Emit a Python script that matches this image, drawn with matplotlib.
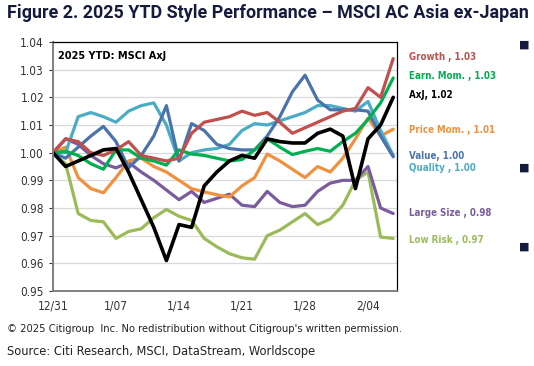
import matplotlib
matplotlib.use("Agg")
import matplotlib.pyplot as plt
from matplotlib.ticker import FixedLocator
from matplotlib import font_manager

# ---- data (weekday index from 12/31) ----
x_labels = ["12/31", "1/07", "1/14", "1/21", "1/28", "2/04"]
x_label_pos = [0, 5, 10, 15, 20, 25]

growth = [1.000, 1.005, 1.004, 1.000, 0.999, 1.001, 1.004, 0.999, 0.998, 0.997,
          0.998, 1.007, 1.011, 1.012, 1.013, 1.015, 1.0135, 1.0145, 1.011, 1.007,
          1.009, 1.011, 1.013, 1.015, 1.016, 1.0235, 1.020, 1.034]
earn_mom = [1.000, 1.0005, 0.999, 0.996, 0.994, 1.001, 1.001, 0.998, 0.997, 0.9955,
            1.001, 0.9995, 0.999, 0.998, 0.997, 0.9975, 1.001, 1.005, 1.002, 0.9993,
            1.0005, 1.0015, 1.0005, 1.004, 1.007, 1.012, 1.018, 1.027]
axj = [1.000, 0.995, 0.997, 0.999, 1.001, 1.0015, 0.993, 0.983, 0.973, 0.961,
       0.974, 0.973, 0.988, 0.993, 0.997, 0.999, 0.998, 1.005, 1.004, 1.0035,
       1.0035, 1.007, 1.0085, 1.006, 0.987, 1.005, 1.010, 1.020]
price_mom = [1.000, 1.002, 0.991, 0.987, 0.9855, 0.991, 0.997, 0.998, 0.995, 0.993,
             0.990, 0.987, 0.9858, 0.9848, 0.984, 0.988, 0.991, 0.9995, 0.997, 0.994,
             0.991, 0.995, 0.993, 0.998, 1.005, 1.0125, 1.006, 1.0085]
value = [1.000, 0.998, 1.002, 1.006, 1.0095, 1.004, 0.9945, 0.999, 1.006, 1.017,
         0.997, 1.0105, 1.008, 1.003, 1.0015, 1.001, 1.001, 1.006, 1.013, 1.022,
         1.028, 1.019, 1.0155, 1.0155, 1.0155, 1.015, 1.006, 0.9985]
quality = [1.000, 1.000, 1.013, 1.0145, 1.013, 1.011, 1.015, 1.017, 1.018, 1.010,
           0.997, 1.000, 1.001, 1.0015, 1.003, 1.008, 1.0105, 1.010, 1.0115, 1.013,
           1.0145, 1.017, 1.017, 1.016, 1.015, 1.0185, 1.008, 0.999]
large_size = [1.000, 1.005, 1.003, 0.999, 0.996, 0.9945, 0.9965, 0.993, 0.990, 0.9865,
              0.983, 0.986, 0.982, 0.9835, 0.985, 0.981, 0.9805, 0.986, 0.982, 0.9805,
              0.981, 0.986, 0.989, 0.990, 0.990, 0.995, 0.980, 0.978]
low_risk = [1.000, 0.996, 0.978, 0.9755, 0.975, 0.969, 0.9715, 0.9725, 0.9765, 0.9795,
            0.977, 0.9755, 0.969, 0.966, 0.9635, 0.962, 0.9615, 0.970, 0.972, 0.975,
            0.978, 0.974, 0.976, 0.981, 0.990, 0.993, 0.9695, 0.969]

y_ticks = [0.95, 0.96, 0.97, 0.98, 0.99, 1.00, 1.01, 1.02, 1.03, 1.04]

series = [
    ("Low Risk , 0.97", low_risk, "#9BBB59", 240),
    ("Large Size , 0.98", large_size, "#7A5C9E", 213),
    ("Price Mom. , 1.01", price_mom, "#F0913F", 130),
    ("Quality , 1.00", quality, "#4BACC6", 168),
    ("Value, 1.00", value, "#4A72AC", 156),
    ("Earn. Mom. , 1.03", earn_mom, "#00B050", 76),
    ("Growth , 1.03", growth, "#C0504D", 57),
    ("AxJ, 1.02", axj, "#000000", 95),
]

names = {f.name for f in font_manager.fontManager.ttflist}
NARROW = "Liberation Sans Narrow" if "Liberation Sans Narrow" in names else "DejaVu Sans"
COND = dict(family=NARROW, stretch="condensed")

W, H = 534, 366
fig = plt.figure(figsize=(W / 100, H / 100), dpi=100)
ax = fig.add_axes([53 / W, 1 - 291 / H, 344 / W, 249 / H])

xs = list(range(len(axj)))
for name, ys, col, _ in series:
    lw = 2.3 if col != "#000000" else 2.6
    ax.plot(xs, ys, color=col, lw=lw, solid_joinstyle="round", solid_capstyle="round")

ax.set_xlim(0, 27.3)
ax.set_ylim(0.95, 1.04)
ax.yaxis.set_major_locator(FixedLocator(y_ticks))
ax.set_yticklabels([f"{v:.2f}" for v in y_ticks])
ax.set_xticks(x_label_pos)
ax.set_xticklabels(x_labels)
ax.grid(axis="y", color="#d9d9d9", lw=0.9)
ax.set_axisbelow(True)
for s in ["top", "right"]:
    ax.spines[s].set_color("black")
    ax.spines[s].set_linewidth(0.9)
for s in ["left", "bottom"]:
    ax.spines[s].set_color("#7f7f7f")
    ax.spines[s].set_linewidth(1.4)
ax.tick_params(axis="both", colors="#333333", length=3, width=0.8)
ax.tick_params(axis="x", length=0, pad=6)
for t in ax.get_xticklabels() + ax.get_yticklabels():
    t.set_fontproperties(font_manager.FontProperties(**COND, size=8.5))

ax.text(0.015, 0.965, "2025 YTD: MSCI AxJ", transform=ax.transAxes, ha="left", va="top",
        fontsize=7.8, fontweight="bold", color="black", **COND)

for name, ys, col, ypx in series:
    fig.text(409 / W, 1 - ypx / H, name, ha="left", va="center", fontsize=7,
             fontweight="bold", color=col, **COND)

for ypx in [45, 168, 247]:
    fig.text(524 / W, 1 - ypx / H, "■", ha="center", va="center", fontsize=8,
             color="#141b3c", family="DejaVu Sans")

fig.text(7 / W, 1 - 13 / H, "Figure 2. 2025 YTD Style Performance – MSCI AC Asia ex-Japan",
         ha="left", va="center", fontsize=12.9, fontweight="bold", family="Roboto",
         color="#141b3c")
fig.text(7 / W, 1 - 329 / H,
         "© 2025 Citigroup  Inc. No redistribution without Citigroup's written permission.",
         ha="left", va="center", fontsize=8, color="#222222", **COND)
fig.text(7 / W, 1 - 352 / H, "Source: Citi Research, MSCI, DataStream, Worldscope",
         ha="left", va="center", fontsize=9.2, color="#222222", **COND)

fig.savefig("out.png", dpi=100)
